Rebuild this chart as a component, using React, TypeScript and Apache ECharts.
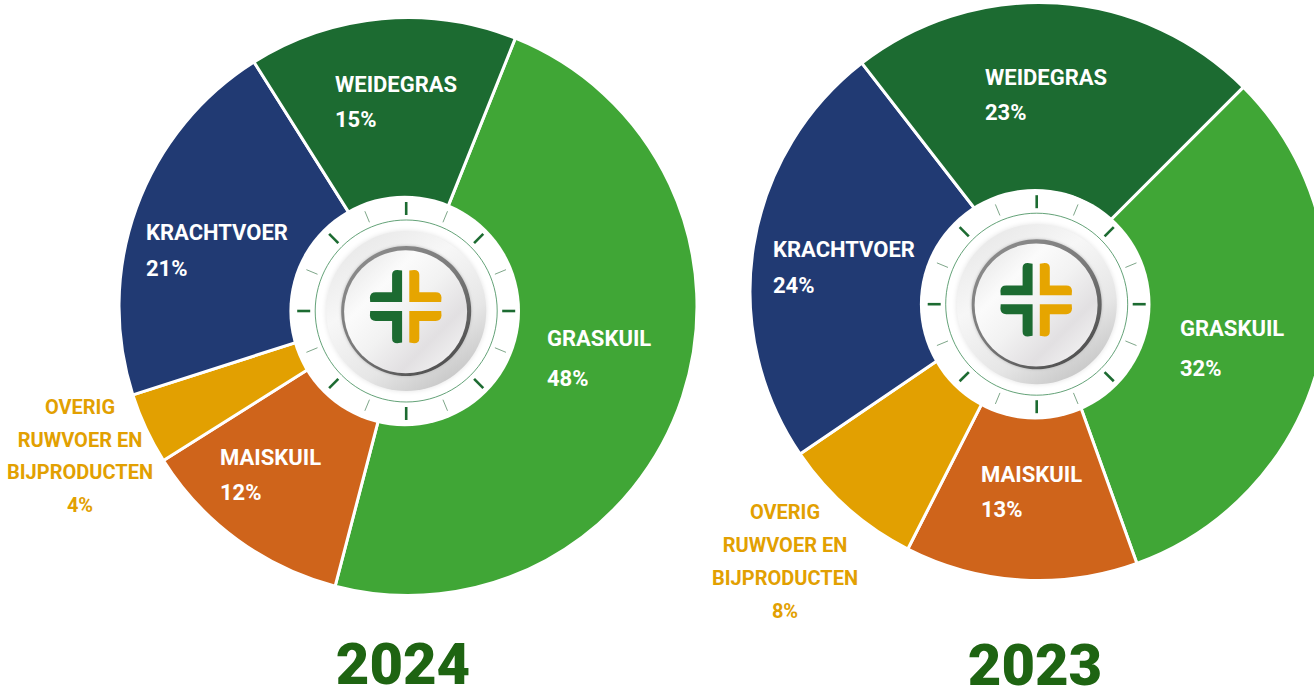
import React, { useEffect, useRef } from "react";
import * as echarts from "echarts";

const names = ["GRASKUIL", "MAISKUIL", "OVERIG\nRUWVOER EN\nBIJPRODUCTEN", "KRACHTVOER", "WEIDEGRAS"];
const values2024 = [48, 12, 4, 21, 15];
const values2023 = [32, 13, 8, 24, 23];
const sliceColors = ["#40a636", "#cf641b", "#e2a001", "#213a73", "#1c6b31"];
const labelColors = ["#ffffff", "#ffffff", "#e2a001", "#ffffff", "#ffffff"];
const years = ["2024", "2023"];

const FONT = "Roboto";
const GREEN = "#1c6b31";
const GOLD = "#e6a500";

// label layout: [x, y of block centre, line height]
const labels2024 = [[547, 358.5, 40], [220, 475, 35], [80, 456, 32.5], [146, 250.5, 36], [335, 101.5, 35]];
const labels2023 = [[1180, 348.5, 40], [981, 492, 35], [785, 561.5, 32.7], [773, 267.5, 36], [985, 95, 35]];

const LOGO = "M-13.6 -32 Q-13.6 -36.7 -8.5 -36.7 L-3.6 -36 L-3.6 -4.5 L-35.5 -4.5 L-35.8 -9 Q-35.5 -14.4 -30 -14.4 L-13.6 -14.4 Z";
echarts.graphic.registerShape("logoPiece", echarts.graphic.extendPath(LOGO as any, {}) as any);

function pie(values: number[], layout: number[][], center: number[], startAngle: number) {
  return {
    type: "pie",
    center,
    radius: [100, 289],
    startAngle,
    clockwise: true,
    avoidLabelOverlap: false,
    silent: true,
    itemStyle: { borderColor: "#ffffff", borderWidth: 3 },
    labelLine: { show: false },
    labelLayout: (p: any) => {
      const [x, y] = layout[p.dataIndex];
      return { x, y, align: p.dataIndex === 2 ? "center" : "left", verticalAlign: "middle" };
    },
    data: values.map((v, i) => ({
      value: v,
      name: names[i],
      itemStyle: { color: sliceColors[i] },
      label: {
        show: true,
        position: "inside",
        formatter: `${names[i]}\n${v}%`,
        color: labelColors[i],
        fontFamily: FONT,
        fontWeight: "bold",
        fontSize: i === 2 ? 20 : 22,
        lineHeight: layout[i][2],
        align: i === 2 ? "center" : "left",
        overflow: "none",
      },
    })),
  };
}

function hub(cx: number, cy: number) {
  const Z = 10;
  const ch: any[] = [];
  ch.push({ type: "circle", z: Z, shape: { cx: cx - 1.5, cy, r: 115.3 }, style: { fill: "#ffffff" } });
  ch.push({ type: "circle", z: Z, shape: { cx, cy, r: 91 }, style: { fill: "none", stroke: "#3c8a55", lineWidth: 0.8 } });
  for (let i = 0; i < 16; i++) {
    const a = (i * Math.PI) / 8;
    const major = i % 2 === 0;
    const [r0, r1] = major ? [96, 109] : [96, 108];
    ch.push({
      type: "line",
      z: Z,
      shape: {
        x1: cx + r0 * Math.sin(a),
        y1: cy - r0 * Math.cos(a),
        x2: cx + r1 * Math.sin(a),
        y2: cy - r1 * Math.cos(a),
      },
      style: { stroke: major ? GREEN : "#6f9c7c", lineWidth: major ? 2.6 : 0.9 },
    });
  }
  ch.push({
    type: "circle",
    z: Z,
    shape: { cx, cy, r: 80 },
    style: {
      fill: new echarts.graphic.LinearGradient(0.15, 0, 0.8, 1, [
        { offset: 0, color: "#e6e6e6" },
        { offset: 0.35, color: "#f7f7f7" },
        { offset: 0.7, color: "#e6e6e6" },
        { offset: 1, color: "#c2c2c2" },
      ]),
      shadowBlur: 5,
      shadowColor: "#e2e2e2",
    },
  });
  ch.push({
    type: "circle",
    z: Z,
    shape: { cx, cy, r: 65 },
    style: {
      fill: new echarts.graphic.LinearGradient(0.1, 0, 0.85, 1, [
        { offset: 0, color: "#8e8e8e" },
        { offset: 0.5, color: "#7a7a7a" },
        { offset: 1, color: "#4a4a4a" },
      ]),
      shadowBlur: 3,
      shadowColor: "#b8b8b8",
    },
  });
  ch.push({
    type: "circle",
    z: Z,
    shape: { cx: cx - 0.6, cy: cy + 0.8, r: 61.5 },
    style: {
      fill: new echarts.graphic.LinearGradient(0, 0, 1, 1, [
        { offset: 0, color: "#e2e2e2" },
        { offset: 0.3, color: "#fbfbfb" },
        { offset: 0.5, color: "#f2f2f2" },
        { offset: 0.72, color: "#e2e0e2" },
        { offset: 1, color: "#fafafa" },
      ]),
    },
  });
  const lx = cx - 0.5;
  const ly = cy - 4.4;
  [
    [1, 1, GREEN],
    [1, -1, GREEN],
    [-1, 1, GOLD],
    [-1, -1, GOLD],
  ].forEach(([sx, sy, fill]) => {
    ch.push({ type: "logoPiece", z: Z, x: lx, y: ly, scaleX: sx, scaleY: sy, style: { fill } });
  });
  return ch;
}

export default function App() {
  const ref = useRef<HTMLDivElement>(null);
  useEffect(() => {
    const chart = echarts.init(ref.current!, undefined, { renderer: "svg" });
    const titleStyle = { color: "#1e6412", fontFamily: FONT, fontWeight: 900, fontSize: 58, lineHeight: 46 };
    chart.setOption({
      animation: false,
      backgroundColor: "#ffffff",
      title: [
        { text: years[0], left: 403, top: 641, textAlign: "center", textStyle: titleStyle, padding: 0 },
        { text: years[1], left: 1035, top: 642, textAlign: "center", textStyle: titleStyle, padding: 0 },
      ],
      series: [pie(values2024, labels2024, [408, 306.5], 68.2), pie(values2023, labels2023, [1039, 291.5], 45)],
      graphic: { elements: [...hub(406.2, 311), ...hub(1036.7, 304.2)] },
    });
    return () => chart.dispose();
  }, []);
  return <div ref={ref} style={{ position: "absolute", left: 0, top: 0, width: 1314, height: 691, overflow: "hidden" }} />;
}
